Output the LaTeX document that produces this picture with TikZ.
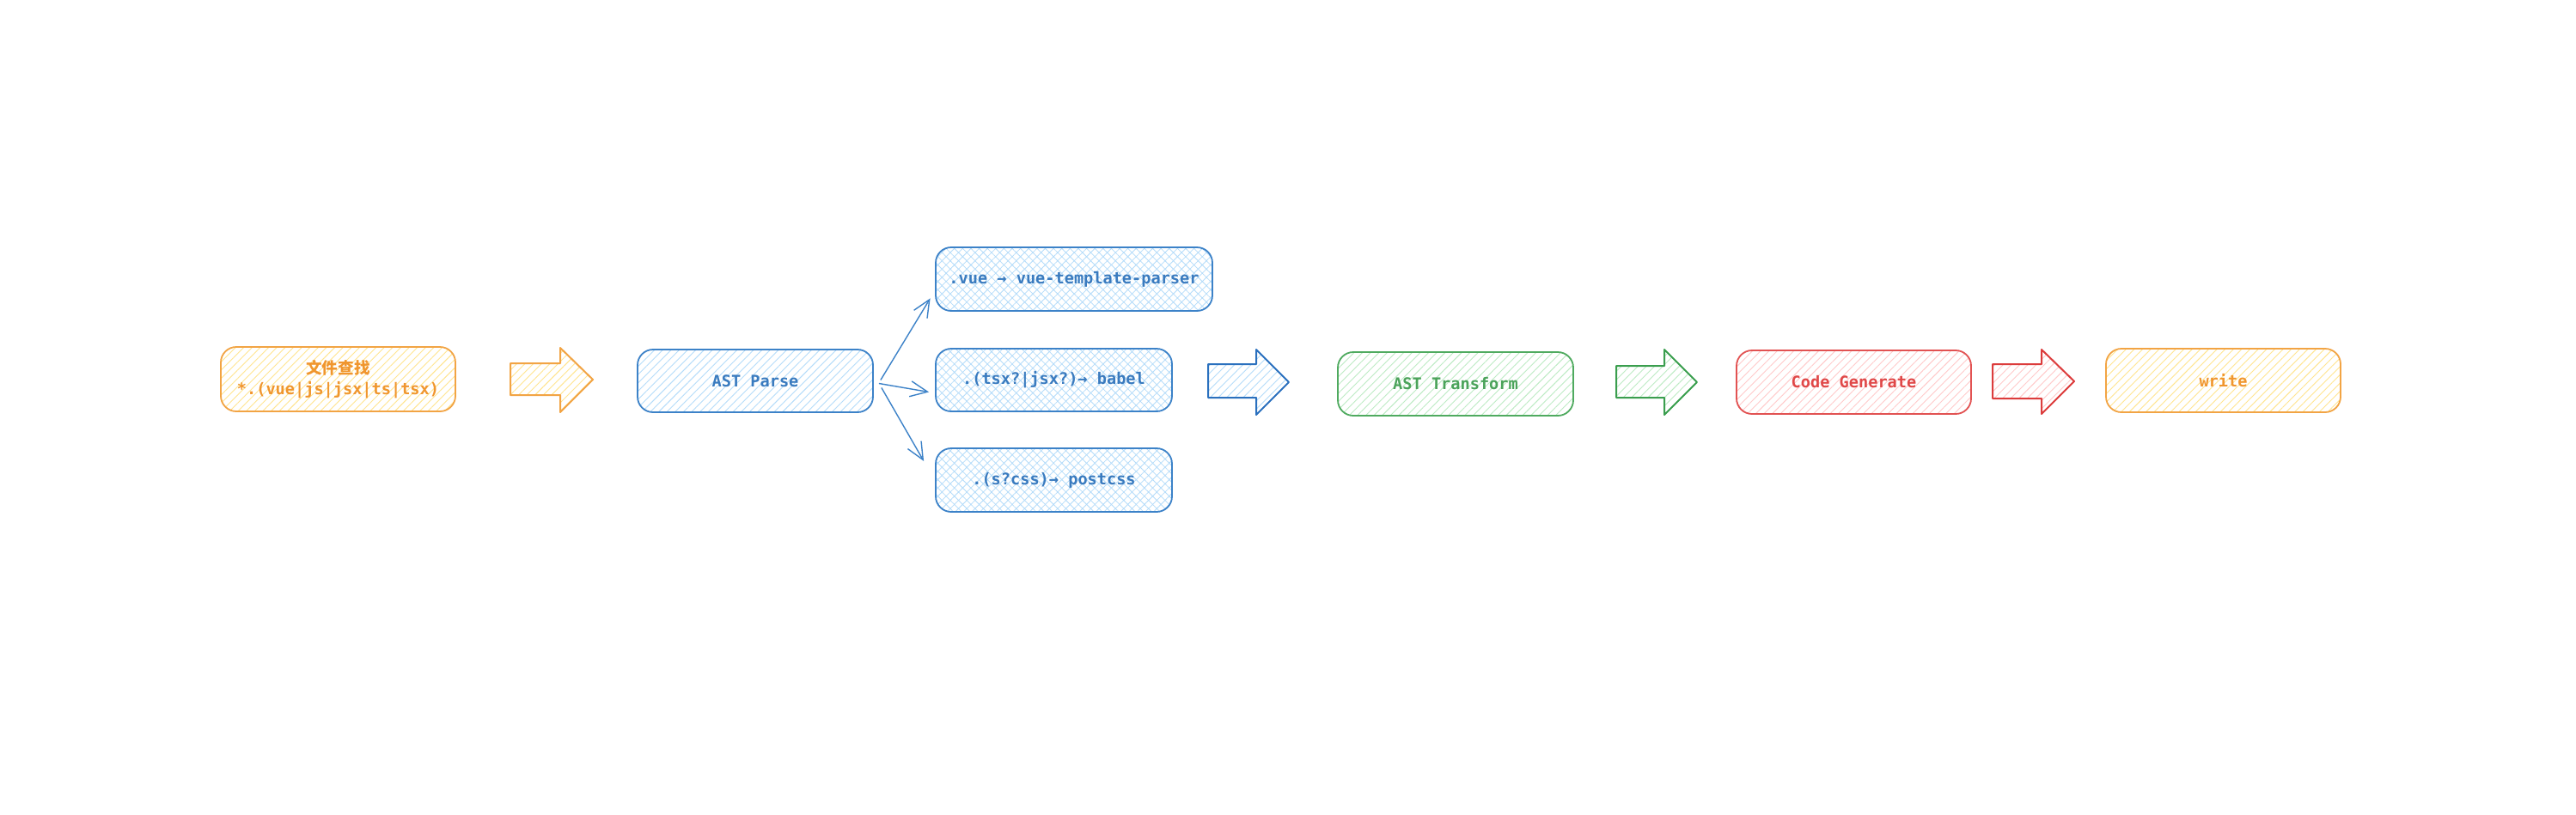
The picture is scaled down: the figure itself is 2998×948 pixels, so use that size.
\documentclass[tikz,border=0pt]{standalone}
\usepackage{fontspec}
\setmonofont{DejaVu Sans Mono}
\newfontfamily\cjk{Noto Sans CJK SC}
\usetikzlibrary{patterns.meta,arrows.meta}
\definecolor{ostroke}{HTML}{F2A444}
\definecolor{otext}{HTML}{F0962E}
\definecolor{ohatch}{HTML}{FFE58F}
\definecolor{bstroke}{HTML}{3C82C8}
\definecolor{barrow}{HTML}{2A70BE}
\definecolor{btext}{HTML}{3A7BBF}
\definecolor{bhatch}{HTML}{B4DCFA}
\definecolor{gstroke}{HTML}{4FAA5F}
\definecolor{garrow}{HTML}{3A9E4E}
\definecolor{gtext}{HTML}{4BA35A}
\definecolor{ghatch}{HTML}{BDEBC4}
\definecolor{rstroke}{HTML}{E25252}
\definecolor{rarrow}{HTML}{DC3C3C}
\definecolor{rtext}{HTML}{E04848}
\definecolor{rhatch}{HTML}{FFCACA}
\tikzset{
  boxbase/.style={rectangle, rounded corners=9pt, line width=0.9pt, align=center,
    font=\ttfamily\bfseries\fontsize{9.3}{12}\selectfont, inner sep=0pt},
  hatchfill/.style={pattern={Lines[angle=45,distance=3.4pt,line width=0.45pt]}, pattern color=#1},
  crossfill/.style={pattern={Hatch[angle=45,distance=3.4pt,line width=0.4pt]}, pattern color=#1},
  obox/.style={boxbase, draw=ostroke, text=otext, hatchfill=ohatch},
  bbox/.style={boxbase, draw=bstroke, text=btext, hatchfill=bhatch},
  bxbox/.style={boxbase, draw=bstroke, text=btext, crossfill=bhatch},
  gbox/.style={boxbase, draw=gstroke, text=gtext, hatchfill=ghatch},
  rbox/.style={boxbase, draw=rstroke, text=rtext, hatchfill=rhatch},
  blockarrow/.style 2 args={draw=#1, line width=1pt, line join=round, hatchfill=#2},
  thinarrow/.style={draw=bstroke, line width=0.7pt, -{Straight Barb[length=10pt,width=9pt,line width=0.7pt]}}
}
\begin{document}
\begin{tikzpicture}[x=0.5pt,y=-0.5pt]
\useasboundingbox[fill=white] (0,0) rectangle (2998,948);
% boxes
\node[obox, minimum width=136.5pt, minimum height=37.5pt] (find) at (393.5,441.5)
  {{\cjk 文件查找}\\*.(vue|js|jsx|ts|tsx)};
\node[bbox, minimum width=137pt, minimum height=36.5pt] (parse) at (879,443.5) {AST Parse};
\node[bxbox, minimum width=161pt, minimum height=37pt] (vue) at (1250,325) {.vue → vue-template-parser};
\node[bxbox, minimum width=137.5pt, minimum height=36.5pt] (babel) at (1226.5,442.5) {.(tsx?|jsx?)→ babel};
\node[bxbox, minimum width=137.5pt, minimum height=37pt] (css) at (1226.5,559) {.(s?css)→ postcss};
\node[gbox, minimum width=137pt, minimum height=37pt] (transform) at (1694,447) {AST Transform};
\node[rbox, minimum width=136.5pt, minimum height=37pt] (gen) at (2157.5,445) {Code Generate};
\node[obox, minimum width=136.5pt, minimum height=37pt] (write) at (2587.5,443) {write};
% block arrows
\draw[blockarrow={ostroke}{ohatch}] (594,423) -- (652,423) -- (652,405) -- (690,442) -- (652,480) -- (652,460) -- (594,460) -- cycle;
\draw[blockarrow={barrow}{bhatch}] (1406,424) -- (1462,424) -- (1462,407) -- (1500,445) -- (1462,483) -- (1462,463) -- (1406,463) -- cycle;
\draw[blockarrow={garrow}{ghatch}] (1881,426) -- (1937,426) -- (1937,407) -- (1975,445) -- (1937,483) -- (1937,463) -- (1881,463) -- cycle;
\draw[blockarrow={rarrow}{rhatch}] (2319,424) -- (2376,424) -- (2376,407) -- (2414,444) -- (2376,482) -- (2376,464) -- (2319,464) -- cycle;
% fan-out connectors
\coordinate (s1) at ([shift={(8,-1)}]parse.east);
\coordinate (s2) at ([shift={(6,3)}]parse.east);
\coordinate (s3) at ([shift={(9,8)}]parse.east);
\coordinate (t1) at ([shift={(-6,-15)}]vue.south west);
\coordinate (t2) at ([shift={(-7,14)}]babel.west);
\coordinate (t3) at ([shift={(-13,-60)}]css.south west);
\draw[thinarrow] (s1) -- (t1);
\draw[thinarrow] (s2) -- (t2);
\draw[thinarrow] (s3) -- (t3);
\end{tikzpicture}
\end{document}
